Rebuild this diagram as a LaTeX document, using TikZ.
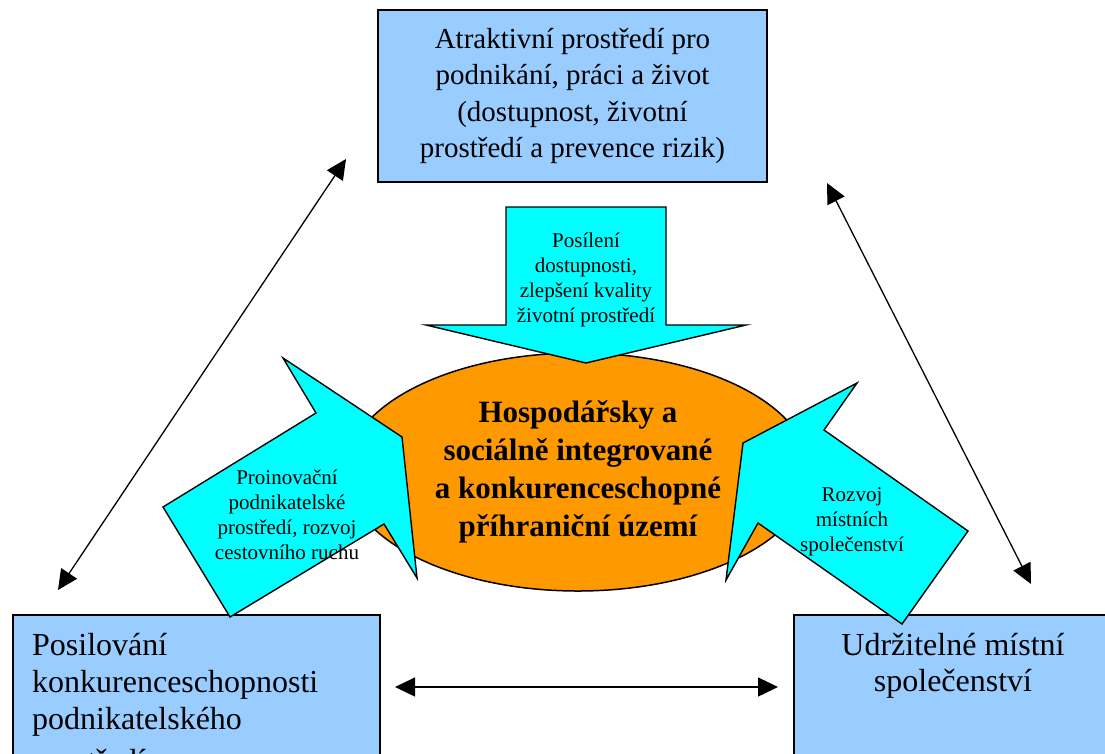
\documentclass[tikz,border=0pt]{standalone}
\usepackage{fontspec}
\setmainfont{Liberation Serif}
\usetikzlibrary{arrows.meta,shapes.geometric}
\definecolor{boxblue}{HTML}{99CCFF}
\definecolor{cyanfill}{HTML}{00FFFF}
\definecolor{orangefill}{HTML}{FF9900}
\tikzset{
  boxshape/.style={draw=black, line width=1.5pt, fill=boxblue, inner sep=0pt},
  blockarrow/.style={draw=black, line width=1.4pt, fill=cyanfill, line join=miter},
  arrowtext/.style={font=\fontsize{21}{25}\selectfont, align=center, inner sep=0pt},
  boxtext/.style={font=\fontsize{32}{37}\selectfont, inner sep=0pt},
  dbl/.style={{Triangle[length=20pt,width=19pt]}-{Triangle[length=20pt,width=19pt]}, line width=1.3pt}
}
\begin{document}
\begin{tikzpicture}[x=1pt,y=-1pt]
\useasboundingbox (0,0) rectangle (1105,753);
\clip (0,0) rectangle (1105,753);

% boxes
\node[boxshape, minimum width=389pt, minimum height=172pt, align=center,
      font=\fontsize{29}{36.5}\selectfont] (topbox) at (572.5,96)
  {Atraktivní prostředí pro\\podnikání, práci a život\\(dostupnost, životní\\prostředí a prevence rizik)};
\node[boxshape, anchor=north west, minimum width=367pt, minimum height=200pt] (blbox) at (12,614) {};
\node[boxtext, anchor=north west, align=left] (bltext) at (32,633)
  {Posilování\\konkurenceschopnosti\\podnikatelského\\[5pt]prostředí};
\node[boxshape, anchor=north west, minimum width=330pt, minimum height=200pt] (brbox) at (793,614) {};
\node[boxtext, anchor=north, align=center, font=\fontsize{32}{36}\selectfont] (brtext) at (953,633)
  {Udržitelné místní\\společenství};

% central ellipse
\node[ellipse, draw=black, line width=1.5pt, fill=orangefill, minimum width=464pt,
      minimum height=238pt, inner sep=0pt, align=center,
      font=\bfseries\fontsize{31}{38}\selectfont] (core) at (578,472)
  {Hospodářsky a\\sociálně integrované\\a konkurenceschopné\\příhraniční území};

% block arrows
\draw[blockarrow] (506,207) -- (666,207) -- (666,325) -- (746,325) -- (586,363)
  -- (426,325) -- (506,325) -- cycle;
\draw[blockarrow] (163,507) -- (316,413) -- (283,358) -- (402,437) -- (417,578)
  -- (384,524) -- (230,617) -- cycle;
\draw[blockarrow] (968,531) -- (824,430) -- (857,383) -- (743,443) -- (726,580)
  -- (758,523) -- (902,624) -- cycle;

\node[arrowtext] (toptext) at (586,280)
  {Posílení\\dostupnosti,\\zlepšení kvality\\životní prostředí};
\node[arrowtext] (lefttext) at (287,515)
  {Proinovační\\podnikatelské\\prostředí, rozvoj\\cestovního ruchu};
\node[arrowtext] (righttext) at (852,522)
  {Rozvoj\\místních\\společenství};

% double arrows
\coordinate (la) at (58,590);
\coordinate (lb) at (346,159);
\coordinate (ra) at (827,183);
\coordinate (rb) at (1031,584);
\coordinate (ha) at (395,687);
\coordinate (hb) at (778,687);
\draw[dbl] (la) -- (lb);
\draw[dbl] (ra) -- (rb);
\draw[dbl] (ha) -- (hb);
\end{tikzpicture}
\end{document}
